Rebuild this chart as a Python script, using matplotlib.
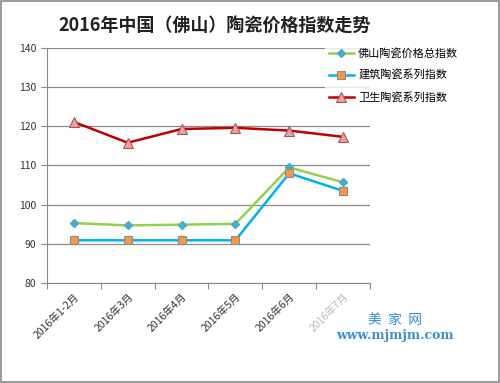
import matplotlib.pyplot as plt
from matplotlib.patches import Rectangle

plt.rcParams['font.family'] = ['Noto Sans CJK SC', 'DejaVu Sans']

months = ['2016年1-2月', '2016年3月', '2016年4月', '2016年5月', '2016年6月', '2016年7月']
total_idx = [95.3, 94.7, 94.9, 95.1, 109.5, 105.7]
build_idx = [90.9, 90.9, 90.9, 90.9, 108.0, 103.5]
sanit_idx = [121.1, 115.8, 119.3, 119.6, 118.9, 117.3]
yticks = [80, 90, 100, 110, 120, 130, 140]

fig = plt.figure(figsize=(5, 3.83), dpi=100)
ax = fig.add_axes([0.094, 0.261, 0.646, 0.614])

x = list(range(len(months)))
ax.plot(x, total_idx, color='#92D050', lw=1.8, marker='D', ms=4.5,
        mfc='#4BACC6', mec='#4BACC6', label='佛山陶瓷价格总指数', zorder=3)
ax.plot(x, build_idx, color='#00B0F0', lw=1.8, marker='s', ms=6,
        mfc='#F79646', mec='#8C8C8C', mew=0.8, label='建筑陶瓷系列指数', zorder=3)
ax.plot(x, sanit_idx, color='#C00000', lw=1.8, marker='^', ms=7,
        mfc='#E6A6A6', mec='#B05050', mew=0.8, label='卫生陶瓷系列指数', zorder=3)

ax.set_xlim(-0.5, len(months) - 0.5)
ax.set_ylim(80, 140)
ax.set_yticks(yticks)
ax.yaxis.grid(True, color='#8A8A8A', lw=0.9)
ax.set_axisbelow(True)
for s in ['top', 'right']:
    ax.spines[s].set_visible(False)
for s in ['left', 'bottom']:
    ax.spines[s].set_color('#8A8A8A')
ax.tick_params(axis='y', colors='#8A8A8A', labelcolor='#333333', labelsize=7.5, length=4)
ax.set_xticks([i - 0.5 for i in range(len(months) + 1)], minor=False)
ax.set_xticklabels([])
ax.set_xticks(x, minor=True)
ax.set_xticklabels(months, minor=True, rotation=45, ha='right', rotation_mode='anchor',
                   fontsize=7.5, color='#333333')
ax.tick_params(axis='x', which='major', colors='#8A8A8A', length=4)
ax.tick_params(axis='x', which='minor', length=0, pad=6)
ax.get_xticklabels(minor=True)[-1].set_color('#B8B8B8')

leg = ax.legend(loc='upper left', bbox_to_anchor=(0.86, 1.02), frameon=True,
                fontsize=8, handlelength=2.2, handletextpad=0.4, labelspacing=1.0,
                borderaxespad=0)
leg.get_frame().set_facecolor('white')
leg.get_frame().set_edgecolor('white')
leg.set_clip_on(False)

fig.text(0.43, 0.935, '2016年中国（佛山）陶瓷价格指数走势', ha='center', va='center',
         fontsize=13, fontweight='bold', color='#222222')

fig.text(0.79, 0.164, '美  家  网', ha='center', va='center', fontsize=10, color='#3A8FD0')
fig.text(0.79, 0.123, 'www.mjmjm.com', ha='center', va='center', fontsize=9,
         color='#3A8FD0', family='DejaVu Serif', fontweight='bold')

fig.patches.append(Rectangle((0.002, 0.003), 0.996, 0.994, transform=fig.transFigure,
                             fill=False, edgecolor='#8A8A8A', lw=1.2))

fig.savefig('out.png', dpi=100)
